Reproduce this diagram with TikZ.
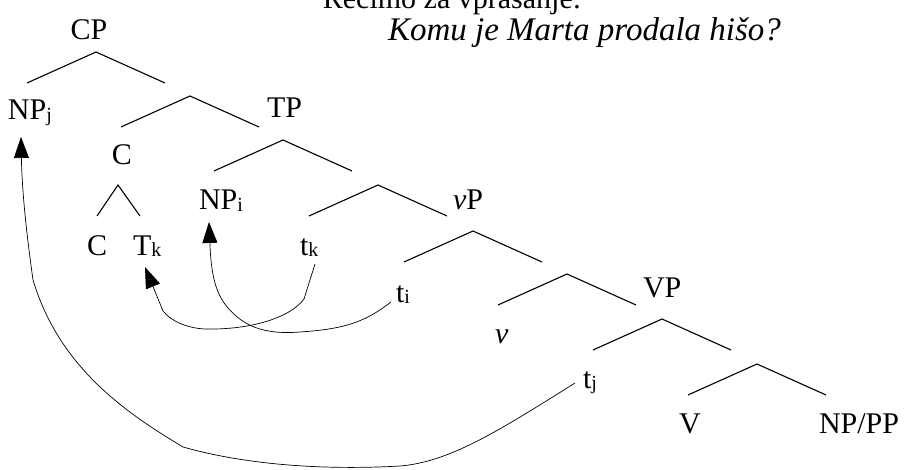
\documentclass[tikz,border=0pt]{standalone}
\usepackage{fontspec}
\setmainfont{Liberation Serif}
\usetikzlibrary{arrows.meta}
\newcommand\sbs[1]{\raisebox{-1.5pt}{\fontsize{20}{20}\selectfont #1}}
\tikzset{
  lab/.style={inner sep=0pt, outer sep=0pt, font=\fontsize{30}{36}\selectfont, anchor=base west},
  tree/.style={line width=1.1pt, black},
  mv/.style={line width=0.7pt, black, -{Triangle[length=21pt,width=15pt]}},
  br/.pic={\draw[tree] (-69,31) -- (0,0) -- (69,31);},
  smallbr/.pic={\draw[tree] (-21,31) -- (0,0) -- (22,31);}
}
\begin{document}
\begin{tikzpicture}[x=1pt,y=-1pt]
\useasboundingbox (0,0) rectangle (907,470);
% title (cut at the top edge, as in the reference)
\node[lab, anchor=base] (title) at (452,9) {Recimo za vprašanje:};
\node[lab, anchor=base] (CP) at (89,40) {CP};
\node[lab, font=\fontsize{33}{38}\selectfont] (q) at (388,41) {\itshape Komu je Marta prodala hišo?};
% branches
\pic at (96,52) {br};
\pic at (190,96) {br};
\pic at (283,140) {br};
\pic at (378,185) {br};
\pic at (473,231) {br};
\pic at (567,274) {br};
\pic at (662,319) {br};
\pic at (757,364) {br};
\pic at (118,185) {smallbr};
% labels
\node[lab] (NPj) at (8,120) {NP\sbs{j}};
\node[lab] (TP) at (267,118) {TP};
\node[lab, anchor=base] (Cu) at (122,165) {C};
\node[lab] (NPi) at (199,210) {NP\sbs{i}};
\node[lab] (vP) at (453,210) {\textit{v}P};
\node[lab] (Cl) at (87,255) {C};
\node[lab] (Tk) at (133,255) {T\sbs{k}};
\node[lab] (tk) at (300,255) {t\sbs{k}};
\node[lab] (ti) at (396,302) {t\sbs{i}};
\node[lab] (VP) at (643,298) {VP};
\node[lab] (v) at (495,343) {\textit{v}};
\node[lab] (tj) at (583,388) {t\sbs{j}};
\node[lab] (V) at (679,433) {V};
\node[lab] (NPPP) at (819,433) {NP/PP};
% movement arrows
\draw[mv] ([shift={(-8,-5)}]tj.base west) .. controls (500,430) and (450,462) .. (400,466)
  .. controls (330,470) and (250,466) .. (183,447)
  .. controls (130,415) and (60,370) .. (33,280)
  .. controls (26,230) and (22,190) .. ([shift={(13,17)}]NPj.base west);
\draw[mv] ([shift={(15,9)}]tk.base west) -- (304,299)
  .. controls (290,318) and (250,330) .. (205,329)
  .. controls (185,328) and (170,320) .. (163,311)
  -- ([shift={(12,12)}]Tk.base west);
\draw[mv] ([shift={(-5,0)}]ti.base west) .. controls (365,322) and (345,329) .. (300,332)
  .. controls (262,335) and (243,325) .. (228,308)
  .. controls (214,292) and (211,270) .. ([shift={(10,12)}]NPi.base west);
\end{tikzpicture}
\end{document}
